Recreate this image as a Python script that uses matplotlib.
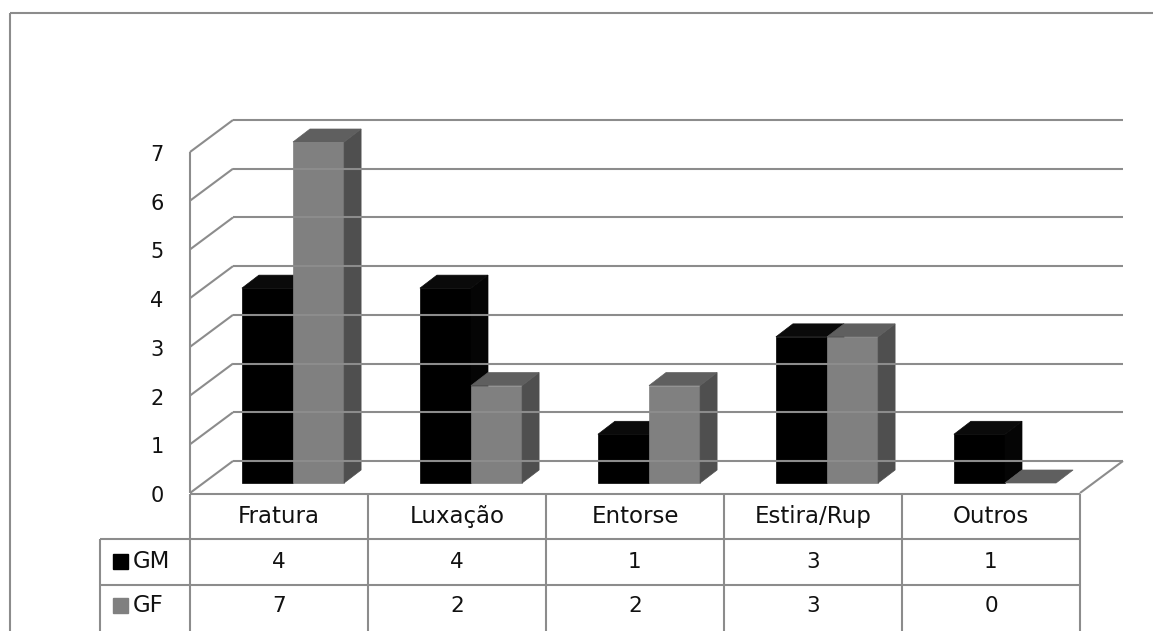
import matplotlib
matplotlib.use("Agg")
import matplotlib.pyplot as plt
from matplotlib.patches import Polygon
from matplotlib.lines import Line2D
from matplotlib.transforms import IdentityTransform

categories = ["Fratura", "Luxação", "Entorse", "Estira/Rup", "Outros"]
series_names = ["GM", "GF"]
gm_values = [4, 4, 1, 3, 1]
gf_values = [7, 2, 2, 3, 0]
y_ticks = [0, 1, 2, 3, 4, 5, 6, 7]

W, H = 1153, 631
plt.rcParams['font.family'] = ['DejaVu Sans']
fig = plt.figure(figsize=(W / 100, H / 100), dpi=100)
fig.patch.set_facecolor("white")

# front plane of the 3D box: x in categories, y in values
ax = fig.add_axes([190 / W, (H - 493) / H, 890 / W, 341 / H])
ax.set_xlim(0, len(categories))
ax.set_ylim(0, max(y_ticks))
ax.axis("off")
fig.canvas.draw()

ID = IdentityTransform()
GRID = "#8c8c8c"
LW = 1.5
WX, WY = 43, 32      # depth of the walls (pixels)
BX, BY = 14, 10      # bar plane offset
DX, DY = 17, 13      # bar depth
BW = 0.287           # bar width in category units


def disp(x, v, dx=0, dy=0):
    X, Y = ax.transData.transform((x, v))
    return (X + dx, Y + dy)


def line(p, q, color=GRID, lw=LW):
    fig.add_artist(Line2D([p[0], q[0]], [p[1], q[1]], color=color, lw=lw,
                          transform=ID, solid_capstyle="butt"))


def poly(pts, color):
    fig.add_artist(Polygon(pts, closed=True, facecolor=color, edgecolor=color,
                           lw=0.5, transform=ID))


n = len(categories)
# outer frame
line((10, H - 13), (W, H - 13))
line((10, H - 13), (10, 0))

# walls and gridlines
for v in y_ticks:
    line(disp(0, v, WX, WY), disp(n, v, WX, WY))
    line(disp(0, v), disp(0, v, WX, WY))
line(disp(0, 0), disp(0, max(y_ticks)))
line(disp(n, 0), disp(n, 0, WX, WY))

# bars
styles = {
    "GM": ("#000000", "#0a0a0a", "#050505"),
    "GF": ("#808080", "#5f5f5f", "#4f4f4f"),
}
for i in range(n):
    for k, (name, vals) in enumerate(zip(series_names, [gm_values, gf_values])):
        xa = i + 0.5 - BW + k * BW
        xb = xa + BW
        v = vals[i]
        front_c, top_c, side_c = styles[name]
        if v > 0:
            poly([disp(xa, 0, BX, BY), disp(xb, 0, BX, BY),
                  disp(xb, v, BX, BY), disp(xa, v, BX, BY)], front_c)
            poly([disp(xb, 0, BX, BY), disp(xb, 0, BX + DX, BY + DY),
                  disp(xb, v, BX + DX, BY + DY), disp(xb, v, BX, BY)], side_c)
        poly([disp(xa, v, BX, BY), disp(xb, v, BX, BY),
              disp(xb, v, BX + DX, BY + DY), disp(xa, v, BX + DX, BY + DY)], top_c)

# y tick labels
for v in y_ticks:
    X, Y = disp(0, v)
    fig.text(X - 33, Y - 3, str(v), transform=ID, ha="center",
             va="center", fontsize=15, color="#111111")

# data table
y_top = H - 494
y_r1 = H - 539
y_r2 = H - 585
y_bot = H - 631
x_left = 100
xs = [disp(i, 0)[0] for i in range(n + 1)]
line((xs[0], y_top), (xs[-1], y_top))
line((x_left, y_r1), (xs[-1], y_r1))
line((x_left, y_r2), (xs[-1], y_r2))
line((x_left, y_r1), (x_left, y_bot))
for x in xs:
    line((x, y_top), (x, y_bot))

fs = 16.5
for i, cat in enumerate(categories):
    cx = (xs[i] + xs[i + 1]) / 2
    fig.text(cx, (y_top + y_r1) / 2, cat, transform=ID, ha="center", va="center",
             fontsize=fs, color="#111111")
    fig.text(cx, (y_r1 + y_r2) / 2, str(gm_values[i]), transform=ID, ha="center",
             va="center", fontsize=fs - 1, color="#111111")
    fig.text(cx, (y_r2 + y_bot) / 2 + 2, str(gf_values[i]),
             transform=ID, ha="center", va="center", fontsize=fs - 1, color="#111111")

for j, (name, yc) in enumerate(zip(series_names, [(y_r1 + y_r2) / 2, (y_r2 + y_bot) / 2 + 2])):
    col = styles[name][0]
    fig.add_artist(Polygon([(113, yc - 7), (128, yc - 7), (128, yc + 8), (113, yc + 8)],
                           closed=True, facecolor=col, edgecolor=col, transform=ID))
    fig.text(133, yc, name, transform=ID, ha="left", va="center", fontsize=fs,
             color="#111111")

fig.savefig("out.png", dpi=100, facecolor="white")
